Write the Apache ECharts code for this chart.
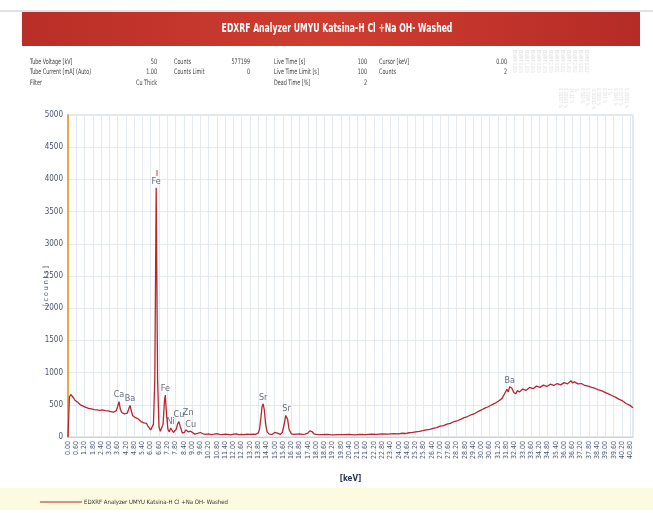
<!DOCTYPE html>
<html>
<head>
<meta charset="utf-8">
<script src="https://cdn.jsdelivr.net/npm/echarts@6/dist/echarts.min.js"></script>
<style>
  html, body { margin: 0; padding: 0; background: #ffffff; }
  #chart { width: 653px; height: 513px; }
</style>
</head>
<body>
<div id="chart"></div>
<script>
// Spectrum: energy (keV) and counts
const keV = [
  0.00, 0.05, 0.10, 0.20, 0.30, 0.40, 0.50, 0.60, 0.70, 0.80, 0.90,
  1.00, 1.10, 1.20, 1.30, 1.40, 1.50, 1.60, 1.70, 1.80, 1.90,
  2.00, 2.10, 2.20, 2.30, 2.40, 2.50, 2.60, 2.70, 2.80, 2.90,
  3.00, 3.10, 3.20, 3.30, 3.40, 3.50, 3.60, 3.70, 3.80, 3.90,
  4.00, 4.10, 4.20, 4.30, 4.40, 4.50, 4.60, 4.70, 4.80, 4.90,
  5.00, 5.10, 5.20, 5.30, 5.40, 5.50, 5.60, 5.70, 5.80, 5.90, 6.00,
  6.10, 6.20, 6.30, 6.40, 6.50, 6.60, 6.70, 6.80, 6.90, 7.00, 7.06,
  7.15, 7.25, 7.35, 7.45, 7.55, 7.65, 7.75, 7.85, 7.95, 8.05, 8.15,
  8.30, 8.45, 8.55, 8.65, 8.75, 8.90, 9.00,
  9.2, 9.4, 9.6, 9.8, 10.0, 10.2, 10.4, 10.6, 10.8, 11.0, 11.2, 11.4,
  11.6, 11.8, 12.0, 12.2, 12.4, 12.6, 12.8, 13.0, 13.2, 13.4, 13.6,
  13.8, 13.9, 14.0, 14.08, 14.16, 14.24, 14.34, 14.45, 14.6, 14.8,
  15.0, 15.1, 15.2, 15.4, 15.55, 15.68, 15.8, 15.86, 15.94, 16.04,
  16.2, 16.4, 16.6, 16.8, 17.0, 17.2, 17.4, 17.55, 17.7, 17.85, 18.0,
  18.4, 18.8, 19.2, 19.6, 20.0, 20.4, 20.8, 21.2, 21.6, 22.0, 22.4,
  22.8, 23.2, 23.6, 24.0,
  24.25, 24.5, 24.75, 25.0, 25.25, 25.5, 25.75, 26.0, 26.25, 26.5,
  26.75, 27.0, 27.25, 27.5, 27.75, 28.0, 28.25, 28.5, 28.75, 29.0,
  29.25, 29.5, 29.75, 30.0, 30.25, 30.5, 30.75, 31.0, 31.25, 31.5,
  31.7, 31.85, 31.95, 32.05, 32.2, 32.35, 32.5, 32.6, 32.75, 33.0,
  33.25, 33.5, 33.75, 34.0, 34.25, 34.5, 34.75, 35.0, 35.25, 35.5,
  35.75, 36.0, 36.25, 36.5, 36.6, 36.75, 37.0, 37.25, 37.5, 37.75,
  38.0, 38.25, 38.5, 38.75, 39.0, 39.25, 39.5, 39.75, 40.0, 40.25,
  40.5, 40.75, 41.0
];
const counts = [
  0, 300, 620, 660, 640, 610, 570, 590, 540, 520, 500,
  470, 480, 450, 460, 430, 445, 420, 435, 410, 425,
  405, 420, 400, 415, 395, 420, 430, 410, 425, 405,
  420, 395, 410, 385, 400, 410, 470, 550, 430, 380,
  370, 360, 355, 370, 430, 490, 400, 330, 340, 300,
  310, 280, 270, 240, 250, 220, 200, 210, 170, 150, 110,
  120, 200, 900, 3870, 900, 160, 90, 80, 200, 560, 650,
  350, 120, 80, 140, 110, 70, 90, 120, 200, 240, 160,
  60, 70, 110, 140, 80, 90, 60,
  45, 55, 70, 50, 40, 48, 38, 44, 52, 40, 36, 46,
  40, 34, 44, 50, 38, 42, 36, 44, 40, 46, 42,
  60, 120, 300, 470, 515, 430, 200, 80, 45, 40,
  70, 85, 60, 40, 70, 190, 335, 345, 270, 120,
  50, 40, 46, 50, 40, 45, 60, 95, 85, 50, 40,
  36, 42, 34, 38, 36, 40, 34, 42, 38, 44, 40,
  48, 44, 52, 50,
  58, 54, 66, 72, 80, 88, 98, 112, 118, 135,
  145, 168, 176, 200, 212, 240, 252, 275, 300, 318,
  345, 362, 395, 420, 448, 470, 500, 525, 560, 600,
  680, 740, 700, 780, 760, 690, 670, 720, 700, 745,
  725, 770, 750, 790, 770, 805, 785, 820, 800, 830,
  810, 845, 825, 875, 840, 855, 825, 830, 800, 790,
  770, 755, 730, 715, 690, 665, 640, 615, 585, 560,
  520, 495, 455
];

// Element labels over their peaks
const peakNames  = ['Fe', 'Fe', 'Ca', 'Ba', 'Ni', 'Cu', 'Zn', 'Cu', 'Sr', 'Sr', 'Ba'];
const peakKeV    = [6.40, 7.06, 3.70, 4.50, 7.45, 8.05, 8.65, 8.90, 14.16, 15.86, 32.05];
const peakCounts = [3870, 650, 550, 490, 140, 240, 140, 90, 515, 345, 780];

const seriesName = 'EDXRF Analyzer UMYU Katsina-H Cl +Na OH- Washed';

// Measurement settings table
const infoRows = [
  ['Tube Voltage [kV]', '50', 'Counts', '577199', 'Live Time [s]', '100', 'Cursor [keV]', '0.00'],
  ['Tube Current [mA] (Auto)', '1.00', 'Counts Limit', '0', 'Live Time Limit [s]', '100', 'Counts', '2'],
  ['Filter', 'Cu Thick', '', '', 'Dead Time [%]', '2', '', '']
];

// Element result columns printed faintly at the upper right
const resultHeads = ['EDXRF 0.003', 'EDXRF 0.003', 'EDXRF 1.003', 'EDXRF 2.003', 'EDXRF 0.003', 'EDXRF 1.003',
                     'EDXRF 2.003', 'EDXRF 0.002', 'EDXRF 0.002', 'EDXRF 1.002', 'EDXRF 2.002', 'EDXRF 0.002', 'EDXRF 0.002'];
const resultVals  = ['0.00081 %', '0.0572 %', '0.0045 %', '1 %', '0.091 %', '0.0083 %', '-0.00100 %',
                     '0.0104 %', '0.003 %', '%', '14.12 %', '0.00922 %', '0.00187 %'];

const NARROW = "'Liberation Sans Narrow','DejaVu Sans Condensed','Roboto',sans-serif";

const chart = echarts.init(document.getElementById('chart'), null, { renderer: 'canvas' });

const spectrum = keV.map((k, i) => [k, counts[i]]);
const peaks = peakNames.map((n, i) => ({
  value: [peakKeV[i], peakCounts[i]],
  name: n,
  label: (n === 'Zn') ? { offset: [1, -9] } : undefined
}));

// Settings table as graphic texts, horizontally condensed
const infoGraphics = [];
const colLeft = [30, 174, 274, 379];
const colRight = [157, 250, 367, 507];
infoRows.forEach((row, r) => {
  for (let c = 0; c < 4; c++) {
    const y = 62 + r * 10.5;
    if (row[c * 2]) infoGraphics.push({
      type: 'text', x: colLeft[c], y: y, scaleX: 0.72,
      style: { text: row[c * 2], font: '7.5px ' + NARROW, fill: '#3c3c3c', textAlign: 'left', textVerticalAlign: 'middle' }
    });
    if (row[c * 2 + 1]) infoGraphics.push({
      type: 'text', x: colRight[c], y: y, scaleX: 0.72,
      style: { text: row[c * 2 + 1], font: '7.5px ' + NARROW, fill: '#3c3c3c',
               textAlign: 'right', textVerticalAlign: 'middle' }
    });
  }
});

const faintGraphics = [];
resultHeads.forEach((t, i) => {
  faintGraphics.push({
    type: 'text', x: 514 + i * 6, y: 50, rotation: -Math.PI / 2, scaleX: 0.7,
    style: { text: t, font: '5.5px ' + NARROW, fill: '#dddddd', textAlign: 'left', textVerticalAlign: 'middle' }
  });
});
resultVals.forEach((t, i) => {
  faintGraphics.push({
    type: 'text', x: 626 - i * 5.5, y: 88, rotation: -Math.PI / 2, scaleX: 0.75,
    style: { text: t, font: '5.5px ' + NARROW, fill: '#dfdfdf', textAlign: 'left', textVerticalAlign: 'middle' }
  });
});

const option = {
  backgroundColor: '#ffffff',
  animation: false,
  textStyle: { fontFamily: NARROW },
  graphic: [
    { type: 'line', shape: { x1: 0, y1: 11, x2: 653, y2: 11 }, style: { stroke: '#c4c4c4', lineWidth: 1 }, z: -1 },
    {
      type: 'rect', shape: { x: 22, y: 12, width: 618, height: 34 },
      style: {
        fill: new echarts.graphic.LinearGradient(0, 0, 1, 0, [
          { offset: 0, color: '#b92e27' },
          { offset: 0.5, color: '#cf3d31' },
          { offset: 1, color: '#b52b26' }
        ])
      }, z: -1
    },
    {
      type: 'text', x: 337, y: 29, scaleX: 0.66,
      style: { text: seriesName, font: 'bold 13px ' + NARROW, fill: '#ffffff', textAlign: 'center', textVerticalAlign: 'middle' }
    },
    { type: 'rect', shape: { x: 0, y: 488, width: 653, height: 22 }, style: { fill: '#fcfadf' }, z: -2 },
    {
      type: 'text', x: 46, y: 286, rotation: Math.PI / 2,
      style: { text: '[ c o u n t s ]', font: '7px ' + NARROW, fill: '#4a5670', textAlign: 'center', textVerticalAlign: 'middle' }
    },
    { type: 'rect', shape: { x: 156.5, y: 170, width: 1, height: 6 }, style: { fill: '#d33a48' } }
  ].concat(infoGraphics, faintGraphics),
  legend: {
    left: 35, top: 494,
    itemWidth: 42, itemHeight: 1, itemGap: 2,
    icon: 'rect',
    textStyle: { fontSize: 6, color: '#333', fontFamily: NARROW, padding: [0, 0, 0, -3] },
    data: [seriesName]
  },
  grid: {
    left: 68, right: 20, top: 115, bottom: 76,
    show: true, borderColor: '#c9d2da', borderWidth: 1, backgroundColor: '#ffffff'
  },
  xAxis: {
    type: 'value', min: 0, max: 41, interval: 0.6,
    name: '[keV]', nameLocation: 'middle', nameGap: 38,
    nameTextStyle: { fontSize: 8, color: '#2c3550', fontWeight: 'bold', fontFamily: NARROW },
    axisLine: { show: true, lineStyle: { color: '#c9d2da' } },
    axisTick: { show: false },
    splitLine: { show: true, lineStyle: { color: '#e2e9ef', width: 1 } },
    axisLabel: {
      rotate: 90, fontSize: 7, color: '#4a5670', margin: 4,
      showMaxLabel: false, fontFamily: NARROW,
      formatter: v => v.toFixed(2)
    }
  },
  yAxis: {
    type: 'value', min: 0, max: 5000, interval: 500,
    axisLine: { show: true, lineStyle: { color: '#f0a83c', width: 2 } },
    axisTick: { show: false },
    splitLine: { show: true, lineStyle: { color: '#e2e9ef', width: 1 } },
    axisLabel: { fontSize: 8, color: '#4a5670', margin: 5, fontFamily: NARROW, formatter: v => String(v) }
  },
  series: [
    {
      name: seriesName, type: 'line', data: spectrum,
      symbol: 'none', smooth: false,
      lineStyle: { color: '#b8262f', width: 1.3 },
      itemStyle: { color: '#b8262f' }
    },
    {
      name: 'peaks', type: 'scatter', data: peaks,
      symbolSize: 0, silent: true,
      label: {
        show: true, position: 'top', distance: 2,
        formatter: p => p.name, fontSize: 9, color: '#3e4a5c', fontFamily: NARROW
      }
    }
  ]
};

chart.setOption(option);
</script>
</body>
</html>
